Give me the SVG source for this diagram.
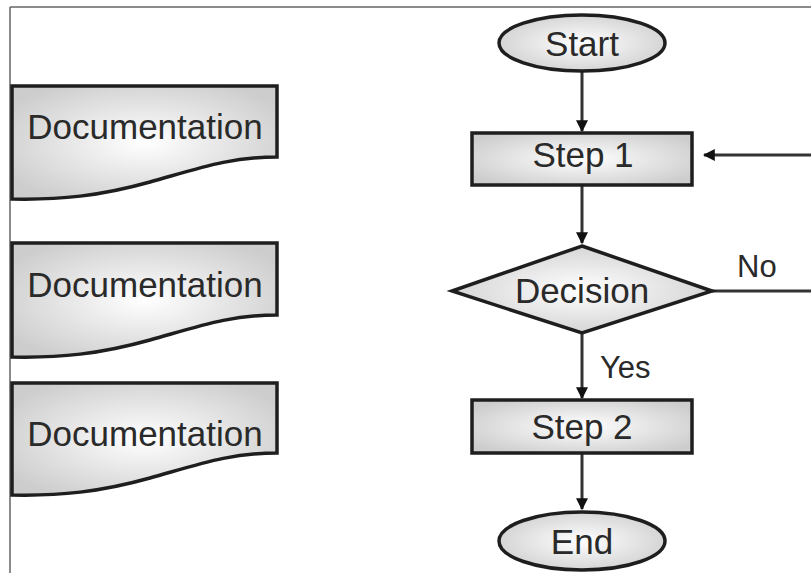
<svg xmlns="http://www.w3.org/2000/svg" width="811" height="573" viewBox="0 0 811 573">
<style>
.sh{fill:url(#g);stroke:#1e1e1e;stroke-width:3.5}
.t{font-family:"Liberation Sans",Arial,sans-serif;font-size:35px;fill:#2a2a2a;text-anchor:middle}
.lbl{font-family:"Liberation Sans",Arial,sans-serif;font-size:31px;fill:#2a2a2a}
.c{stroke:#333;stroke-width:3;fill:none}
</style>
<defs>
<radialGradient id="g" cx="0.5" cy="0.5" r="0.6">
<stop offset="0" stop-color="#ffffff"/>
<stop offset="1" stop-color="#cdcdcd"/>
</radialGradient>
<marker id="ah" viewBox="0 0 10 10" refX="9" refY="5" markerWidth="4" markerHeight="4" orient="auto" markerUnits="strokeWidth">
<path d="M0,0 L10,5 L0,10 Z" fill="#111"/>
</marker>
</defs>
<rect width="811" height="573" fill="#fff"/>
<g id="frame">
<path d="M10,7 H811 M10,7 V573" stroke="#666" stroke-width="1.5" fill="none"/>
</g>
<g id="doc1">
<path class="sh" d="M12,86 H277 V157 C230,157 200,168 150,182 C100,196 60,200 12,199 Z"/>
<text class="t" x="145" y="139">Documentation</text>
</g>
<g id="doc2">
<path class="sh" d="M12,243 H277 V315 C230,315 200,326 150,340 C100,354 60,358 12,357 Z"/>
<text class="t" x="145" y="297">Documentation</text>
</g>
<g id="doc3">
<path class="sh" d="M12,383 H277 V453 C230,453 200,464 150,478 C100,492 60,496 12,495 Z"/>
<text class="t" x="145" y="446">Documentation</text>
</g>
<g id="connectors">
<line class="c" x1="582" y1="72" x2="582" y2="131" marker-end="url(#ah)"/>
<line class="c" x1="582" y1="185" x2="582" y2="243" marker-end="url(#ah)"/>
<line class="c" x1="582" y1="333" x2="582" y2="398" marker-end="url(#ah)"/>
<line class="c" x1="582" y1="453" x2="582" y2="509" marker-end="url(#ah)"/>
<line class="c" x1="712" y1="291" x2="811" y2="291"/>
<line class="c" x1="811" y1="155" x2="704" y2="155" marker-end="url(#ah)"/>
<text class="lbl" x="737" y="277">No</text>
<text class="lbl" x="600" y="378">Yes</text>
</g>
<g id="start">
<ellipse class="sh" cx="582" cy="43" rx="83" ry="28"/>
<text class="t" x="582" y="56">Start</text>
</g>
<g id="step1">
<rect class="sh" x="472" y="133" width="220" height="52"/>
<text class="t" x="583" y="167">Step 1</text>
</g>
<g id="decision">
<path class="sh" d="M582,246 L712,291 L582,333 L452,291 Z"/>
<text class="t" x="582" y="303">Decision</text>
</g>
<g id="step2">
<rect class="sh" x="472" y="400" width="220" height="53"/>
<text class="t" x="582" y="439">Step 2</text>
</g>
<g id="end">
<ellipse class="sh" cx="582" cy="541" rx="83" ry="29"/>
<text class="t" x="582" y="554">End</text>
</g>
</svg>
